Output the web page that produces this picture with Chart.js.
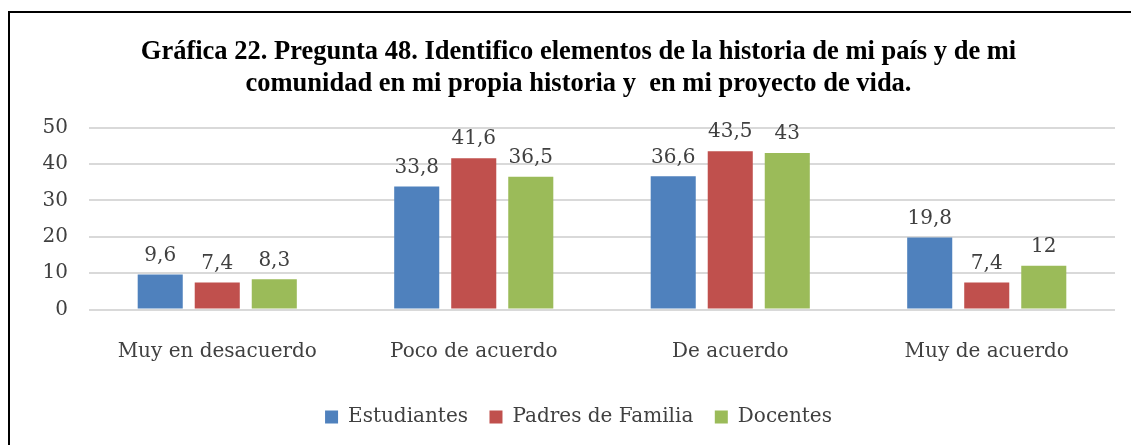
<!DOCTYPE html>
<html>
<head>
<meta charset="utf-8">
<script src="https://cdn.jsdelivr.net/npm/chart.js@4"></script>
<style>
  html, body { margin: 0; padding: 0; background: #fff; }
  #wrap { position: relative; width: 1131px; height: 445px; }
</style>
</head>
<body>
<div id="wrap"><canvas id="grafica"></canvas></div>
<script>
// data
var categorias = ["Muy en desacuerdo", "Poco de acuerdo", "De acuerdo", "Muy de acuerdo"];
var estudiantes = [9.6, 33.8, 36.6, 19.8];
var padres = [7.4, 41.6, 43.5, 7.4];
var docentes = [8.3, 36.5, 43, 12];
var ticksY = [0, 10, 20, 30, 40, 50];

var fuenteTitulo = "'Liberation Serif', serif";
var fuente = "'DejaVu Serif', serif";

// value labels above each bar, with decimal comma
var etiquetas = {
    id: 'etiquetas',
    afterDatasetsDraw: function (chart) {
        var ctx = chart.ctx;
        ctx.save();
        ctx.font = "20px " + fuente;
        ctx.fillStyle = "#404040";
        ctx.textAlign = "center";
        ctx.textBaseline = "bottom";
        chart.data.datasets.forEach(function (ds, i) {
            chart.getDatasetMeta(i).data.forEach(function (bar, j) {
                ctx.fillText(String(ds.data[j]).replace('.', ','), bar.x, bar.y - 9);
            });
        });
        ctx.restore();
    }
};

// black frame on the left and top
var marco = {
    id: 'marco',
    beforeDraw: function (chart) {
        var ctx = chart.ctx;
        ctx.save();
        ctx.strokeStyle = "#000";
        ctx.lineWidth = 2;
        ctx.beginPath();
        ctx.moveTo(9, chart.height);
        ctx.lineTo(9, 12);
        ctx.lineTo(chart.width, 12);
        ctx.stroke();
        ctx.restore();
    }
};

var ctx = document.getElementById("grafica").getContext('2d');
var grafica = new Chart(ctx, {
    type: 'bar',
    data: {
        labels: categorias,
        datasets: [
            { label: "Estudiantes", data: estudiantes, backgroundColor: "#4F81BD" },
            { label: "Padres de Familia", data: padres, backgroundColor: "#C0504D" },
            { label: "Docentes", data: docentes, backgroundColor: "#9BBB59" }
        ]
    },
    plugins: [marco, etiquetas],
    options: {
        responsive: true,
        maintainAspectRatio: false,
        animation: false,
        layout: { padding: { left: 42, right: 16, top: 36, bottom: 8 } },
        datasets: { bar: { categoryPercentage: 0.667, barPercentage: 0.79 } },
        plugins: {
            title: {
                display: true,
                text: ["Gráfica 22. Pregunta 48. Identifico elementos de la historia de mi país y de mi",
                       "comunidad en mi propia historia y  en mi proyecto de vida."],
                font: { family: fuenteTitulo, size: 26.5, weight: 'bold', lineHeight: 1.2 },
                color: "#000",
                padding: { top: 0, bottom: 28 }
            },
            legend: {
                position: 'bottom',
                labels: {
                    font: { family: fuente, size: 20 },
                    color: "#404040",
                    boxWidth: 13,
                    boxHeight: 13,
                    padding: 21.5
                }
            },
            tooltip: { enabled: false }
        },
        scales: {
            x: {
                grid: { display: false },
                border: { display: false },
                ticks: { font: { family: fuente, size: 20 }, color: "#404040", padding: 22 }
            },
            y: {
                min: 0,
                max: 50,
                afterBuildTicks: function (axis) {
                    axis.ticks = ticksY.map(function (v) { return { value: v }; });
                },
                afterFit: function (axis) { axis.width = 47; },
                grid: { color: "#d9d9d9", lineWidth: 2, drawTicks: false },
                border: { display: false },
                ticks: { font: { family: fuente, size: 20 }, color: "#404040", padding: 21 }
            }
        }
    }
});
</script>
</body>
</html>
